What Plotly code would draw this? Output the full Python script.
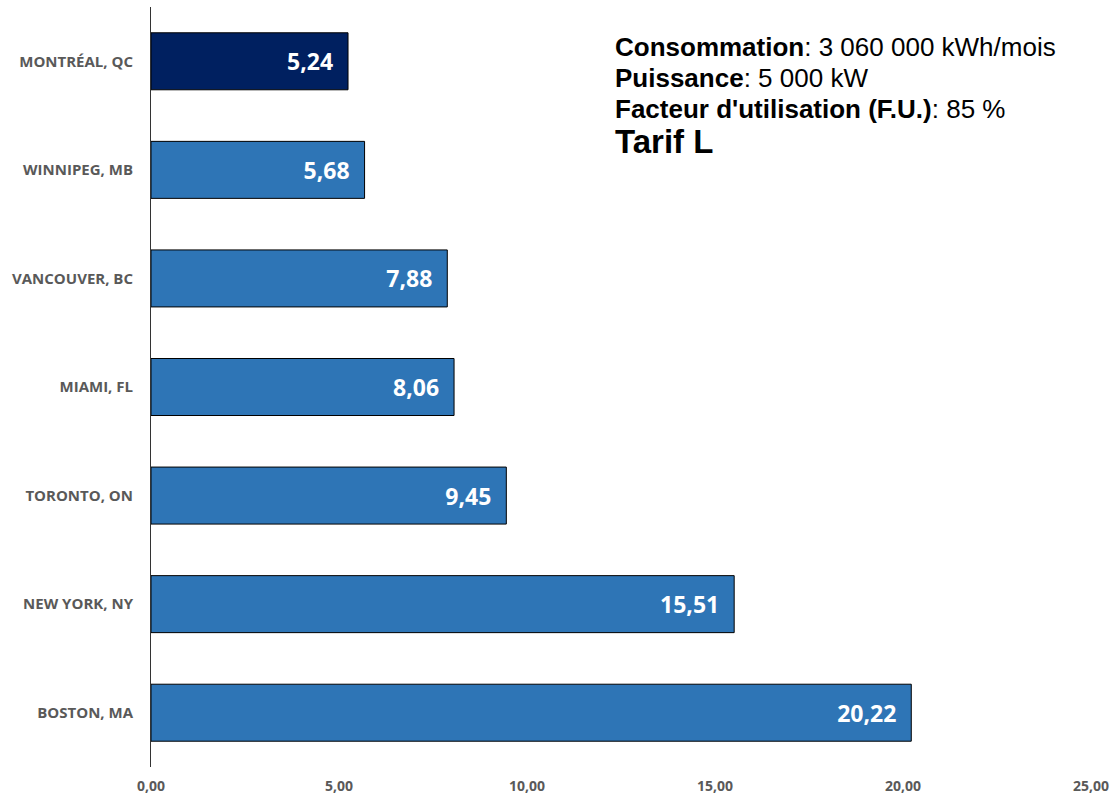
import plotly.graph_objects as go

cities = ["MONTRÉAL, QC", "WINNIPEG, MB", "VANCOUVER, BC", "MIAMI, FL",
          "TORONTO, ON", "NEW YORK, NY", "BOSTON, MA"]
values = [5.24, 5.68, 7.88, 8.06, 9.45, 15.51, 20.22]
colors = ["#002060"] + ["#2E75B6"] * 6
x_ticks = [0, 5, 10, 15, 20, 25]

fig = go.Figure(go.Bar(
    x=values, y=cities, orientation="h",
    marker=dict(color=colors, line=dict(color="#000000", width=1)),
    texttemplate="%{x:.2f}\u00a0\u00a0", textposition="inside", insidetextanchor="end",
    textfont=dict(family="Open Sans", size=23, color="white", weight="bold"),
    cliponaxis=False,
))

W, H = 1112, 799
L, R, T, B = 151, 21, 7, 32
fig.update_layout(
    width=W, height=H,
    margin=dict(l=L, r=R, t=T, b=B, pad=0),
    plot_bgcolor="white", paper_bgcolor="white",
    separators=", ",
    bargap=0.475,
    showlegend=False,
    xaxis=dict(range=[0, 25], tickvals=x_ticks, tickformat=".2f",
               showgrid=False, zeroline=False, showline=False, automargin=False,
               tickfont=dict(family="Open Sans", size=14, color="#595959", weight="bold"),
               ticklabelstandoff=9),
    yaxis=dict(categoryorder="array", categoryarray=cities, autorange="reversed",
               showgrid=False, zeroline=False, showline=True, linecolor="#333333",
               linewidth=1, ticks="", automargin=False,
               tickfont=dict(family="Open Sans", size=15, color="#595959", weight="bold"),
               ticklabelstandoff=14),
)

# plot area: x 151..1091, y 7..767
ann = [
    ("<b>Consommation</b>: 3 060 000 kWh/mois", 47, 26),
    ("<b>Puissance</b>: 5 000 kW", 78, 26),
    ("<b>Facteur d'utilisation (F.U.)</b>: 85 %", 109, 26),
    ("<b>Tarif L</b>", 142, 33),
]
for text, ypx, size in ann:
    fig.add_annotation(
        text=text, xref="paper", yref="paper",
        x=(613 - 151) / (1091 - 151), y=1 - (ypx - 7) / (767 - 7),
        xanchor="left", yanchor="middle", showarrow=False,
        font=dict(family="Liberation Sans, Arial", size=size, color="#000000"),
    )

fig.write_html("out.html", config={"displayModeBar": False},
               post_script="document.body.style.margin='0';document.body.style.overflow='hidden';")
